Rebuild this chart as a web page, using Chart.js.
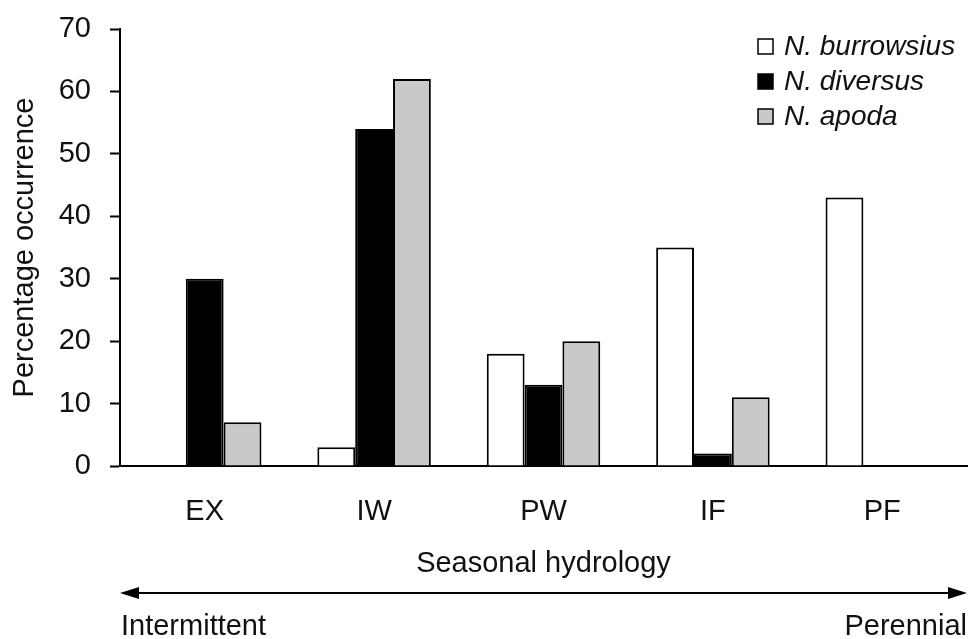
<!DOCTYPE html>
<html>
<head>
<meta charset="utf-8">
<script src="https://cdn.jsdelivr.net/npm/chart.js@4"></script>
<style>
  html, body { margin: 0; padding: 0; background: #fff; }
  #wrap { width: 979px; height: 639px; }
</style>
</head>
<body>
<div id="wrap"><canvas id="hydroChart" width="979" height="639"></canvas></div>
<script>
// data
const categories = ['EX', 'IW', 'PW', 'IF', 'PF'];
const burrowsius = [0, 3, 18, 35, 43];
const diversus = [30, 54, 13, 2, 0];
const apoda = [7, 62, 20, 11, 0];
const seriesNames = ['N. burrowsius', 'N. diversus', 'N. apoda'];
const yTicks = [0, 10, 20, 30, 40, 50, 60, 70];

const FONT = 'Liberation Sans, Arial, Helvetica, sans-serif';
const SIZE = 29;
const fills = ['#ffffff', '#000000', '#c8c9cb'];

// legend + intermittent/perennial arrow below the axis
const extrasPlugin = {
    id: 'extras',
    afterDraw(chart) {
        const c = chart.ctx;
        const area = chart.chartArea;
        c.save();

        // legend, top right inside the plot
        c.font = 'italic 28px ' + FONT;
        c.textBaseline = 'middle';
        c.textAlign = 'left';
        const rows = [46, 81, 116];
        seriesNames.forEach((name, i) => {
            c.fillStyle = fills[i];
            c.fillRect(758, rows[i] - 7, 15, 15);
            c.strokeStyle = '#000';
            c.lineWidth = 1.5;
            c.strokeRect(758, rows[i] - 7, 15, 15);
            c.fillStyle = '#111';
            c.fillText(name, 784, rows[i] + 1);
        });

        // double-headed arrow
        const y = 593;
        const x0 = area.left, x1 = area.right;
        c.strokeStyle = '#000';
        c.lineWidth = 2;
        c.beginPath();
        c.moveTo(x0 + 10, y);
        c.lineTo(x1 - 10, y);
        c.stroke();
        c.fillStyle = '#000';
        c.beginPath();
        c.moveTo(x0, y);
        c.lineTo(x0 + 19, y - 6);
        c.lineTo(x0 + 19, y + 6);
        c.closePath();
        c.fill();
        c.beginPath();
        c.moveTo(x1, y);
        c.lineTo(x1 - 19, y - 6);
        c.lineTo(x1 - 19, y + 6);
        c.closePath();
        c.fill();

        c.font = SIZE + 'px ' + FONT;
        c.fillStyle = '#111';
        c.textBaseline = 'alphabetic';
        c.textAlign = 'left';
        c.fillText('Intermittent', x0 + 1, 635);
        c.textAlign = 'right';
        c.fillText('Perennial', x1, 635);
        c.restore();
    }
};

const ctx = document.getElementById('hydroChart').getContext('2d');
const hydroChart = new Chart(ctx, {
    type: 'bar',
    data: {
        labels: categories,
        datasets: [
            { label: seriesNames[0], data: burrowsius, backgroundColor: fills[0] },
            { label: seriesNames[1], data: diversus, backgroundColor: fills[1] },
            { label: seriesNames[2], data: apoda, backgroundColor: fills[2] }
        ].map(d => Object.assign(d, {
            borderColor: '#000',
            borderWidth: 2,
            borderSkipped: 'bottom',
            barPercentage: 1.0,
            categoryPercentage: 0.67
        }))
    },
    options: {
        responsive: false,
        animation: false,
        layout: { padding: { left: 0, right: 12, top: 29, bottom: 0 } },
        plugins: {
            legend: { display: false },
            tooltip: { enabled: false }
        },
        scales: {
            x: {
                grid: { display: false },
                border: { display: true, color: '#000', width: 2 },
                ticks: {
                    padding: 21,
                    color: '#111',
                    font: { family: FONT, size: SIZE }
                },
                title: {
                    display: true,
                    text: 'Seasonal hydrology',
                    color: '#111',
                    font: { family: FONT, size: SIZE },
                    padding: { top: 10, bottom: 58 }
                },
                afterFit(scale) {
                    scale.height = 173;
                    scale.paddingLeft = 0;
                    scale.paddingRight = 0;
                }
            },
            y: {
                min: 0,
                max: 70,
                afterBuildTicks(scale) {
                    scale.ticks = yTicks.map(v => ({ value: v }));
                },
                grid: {
                    drawOnChartArea: false,
                    drawTicks: true,
                    tickLength: 10,
                    tickWidth: 2,
                    tickColor: '#000'
                },
                border: { display: true, color: '#000', width: 2 },
                ticks: {
                    padding: 19,
                    color: '#111',
                    font: { family: FONT, size: SIZE }
                },
                title: {
                    display: true,
                    text: 'Percentage occurrence',
                    color: '#111',
                    font: { family: FONT, size: SIZE },
                    padding: { top: 8, bottom: 0 }
                },
                afterFit(scale) {
                    scale.width = 120;
                    scale.paddingTop = 0;
                    scale.paddingBottom = 0;
                }
            }
        }
    },
    plugins: [extrasPlugin]
});
</script>
</body>
</html>
